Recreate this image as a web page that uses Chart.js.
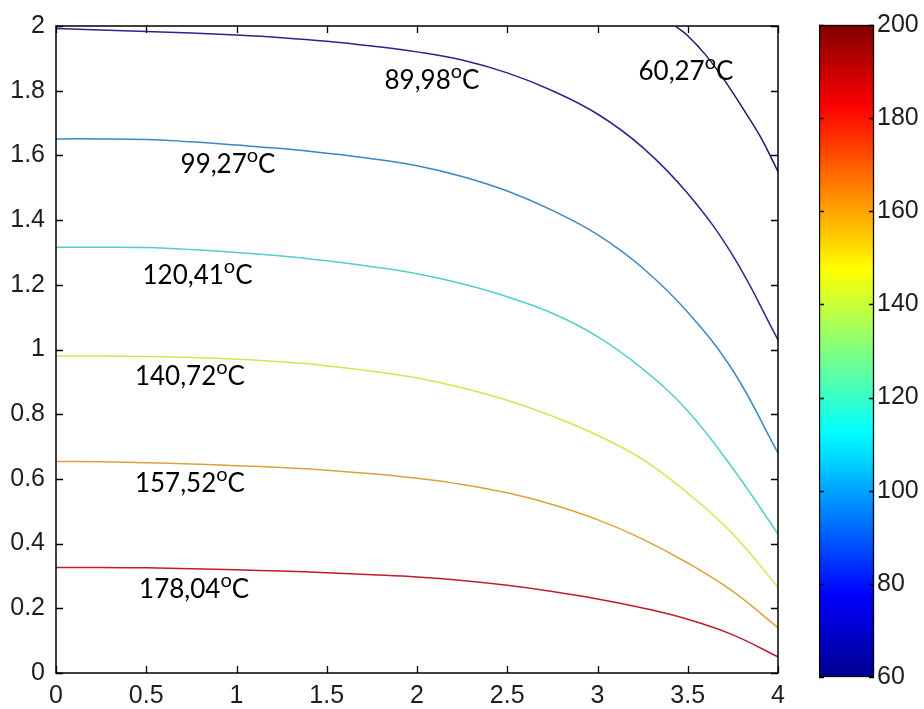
<!DOCTYPE html>
<html>
<head>
<meta charset="utf-8">
<title>Isotherms</title>
<style>
  html, body { margin: 0; padding: 0; background: #ffffff; width: 924px; height: 709px; overflow: hidden; }
  #wrap { position: relative; width: 924px; height: 709px; }
  #main { position: absolute; left: 0; top: 0; }
  #bar { position: absolute; left: 819px; top: 0; }
</style>
<script src="https://cdn.jsdelivr.net/npm/chart.js@4/dist/chart.umd.min.js"></script>
</head>
<body>
<div id="wrap">
  <canvas id="main" width="924" height="709"></canvas>
  <canvas id="bar" width="105" height="709"></canvas>
</div>
<script>
// Axis ticks
const xTickValues = [0, 0.5, 1, 1.5, 2, 2.5, 3, 3.5, 4];
const yTickValues = [0, 0.2, 0.4, 0.6, 0.8, 1, 1.2, 1.4, 1.6, 1.8, 2];
const colorbarTicks = [60, 80, 100, 120, 140, 160, 180, 200];
const colorbarMin = 60;
const colorbarMax = 200;

// Isotherm levels (°C)
const levelTexts = ['60,27', '89,98', '99,27', '120,41', '140,72', '157,52', '178,04'];

// Shared x positions for the isotherms that span the whole width
const xs = [0, 0.25, 0.5, 0.75, 1, 1.25, 1.5, 1.75, 2, 2.25, 2.5, 2.75, 3, 3.25, 3.5, 3.75, 4];

// The 60,27 isotherm only enters the upper-right corner
const iso60x  = [3.43, 3.5, 3.6, 3.7, 3.8, 3.9, 4.0];
const iso60y  = [2.0, 1.97, 1.91, 1.835, 1.75, 1.66, 1.55];

const iso90y  = [1.992, 1.988, 1.983, 1.978, 1.972, 1.964, 1.953, 1.938, 1.920, 1.895, 1.855, 1.800, 1.728, 1.625, 1.482, 1.290, 1.03];
const iso99y  = [1.651, 1.651, 1.649, 1.642, 1.632, 1.621, 1.607, 1.590, 1.568, 1.535, 1.490, 1.430, 1.355, 1.252, 1.115, 0.935, 0.68];
const iso120y = [1.316, 1.316, 1.315, 1.309, 1.300, 1.289, 1.274, 1.256, 1.234, 1.203, 1.163, 1.112, 1.040, 0.940, 0.810, 0.632, 0.43];
const iso141y = [0.980, 0.980, 0.978, 0.975, 0.970, 0.962, 0.950, 0.933, 0.912, 0.882, 0.843, 0.794, 0.735, 0.660, 0.556, 0.430, 0.265];
const iso158y = [0.654, 0.653, 0.650, 0.646, 0.641, 0.635, 0.627, 0.616, 0.602, 0.583, 0.557, 0.521, 0.474, 0.414, 0.340, 0.252, 0.14];
const iso178y = [0.326, 0.326, 0.325, 0.322, 0.319, 0.315, 0.310, 0.304, 0.297, 0.286, 0.271, 0.252, 0.229, 0.201, 0.166, 0.118, 0.05];

const pathsX = [iso60x, xs, xs, xs, xs, xs, xs];
const pathsY = [iso60y, iso90y, iso99y, iso120y, iso141y, iso158y, iso178y];
const lineColors = ['#1c1c5e', '#26268c', '#3a88c4', '#52cfc8', '#dbe24e', '#dca23a', '#c01c30'];

// Label anchor (centre of each label) in axis units
const labelAnchors = [
  [3.49, 1.861], [2.083, 1.834], [0.953, 1.572], [0.784, 1.230],
  [0.742, 0.918], [0.742, 0.586], [0.765, 0.259]
];

const tickFont = { family: '"Liberation Sans", Arial, sans-serif', size: 25 };
const tickColor = '#1e1e1e';

const datasets = pathsX.map((px, i) => ({
  label: levelTexts[i],
  data: px.map((x, k) => ({ x: x, y: pathsY[i][k] })),
  showLine: true,
  borderColor: lineColors[i],
  borderWidth: 1.5,
  pointRadius: 0,
  tension: 0.4,
  fill: false
}));

// Frame with inward tick marks on all four sides
const framePlugin = {
  id: 'frame',
  afterDatasetsDraw(chart) {
    const { ctx, chartArea: a, scales } = chart;
    ctx.save();
    ctx.strokeStyle = '#000';
    ctx.lineWidth = 1.5;
    ctx.strokeRect(a.left, a.top, a.right - a.left, a.bottom - a.top);
    ctx.lineWidth = 1.3;
    const len = 7;
    ctx.beginPath();
    xTickValues.forEach(v => {
      const px = Math.round(scales.x.getPixelForValue(v)) + 0.5;
      ctx.moveTo(px, a.bottom); ctx.lineTo(px, a.bottom - len);
      ctx.moveTo(px, a.top); ctx.lineTo(px, a.top + len);
    });
    yTickValues.forEach(v => {
      const py = Math.round(scales.y.getPixelForValue(v)) + 0.5;
      ctx.moveTo(a.left, py); ctx.lineTo(a.left + len, py);
      ctx.moveTo(a.right, py); ctx.lineTo(a.right - len, py);
    });
    ctx.stroke();
    ctx.restore();
  }
};

// Level labels such as 89,98°C with a raised "o"
const labelPlugin = {
  id: 'levelLabels',
  afterDatasetsDraw(chart) {
    const { ctx, scales } = chart;
    const mainFont = '26px Lato, "Open Sans", sans-serif';
    const supFont = '20px Lato, "Open Sans", sans-serif';
    ctx.save();
    ctx.fillStyle = '#000';
    ctx.textBaseline = 'alphabetic';
    levelTexts.forEach((t, i) => {
      const cx = scales.x.getPixelForValue(labelAnchors[i][0]);
      const cy = scales.y.getPixelForValue(labelAnchors[i][1]);
      ctx.font = mainFont;
      const w1 = ctx.measureText(t).width;
      const w3 = ctx.measureText('C').width;
      ctx.font = supFont;
      const w2 = ctx.measureText('o').width;
      const total = w1 + w2 + w3;
      let x = cx - total / 2;
      const base = cy + 9;
      ctx.font = mainFont;
      ctx.fillText(t, x, base);
      x += w1;
      ctx.font = supFont;
      ctx.fillText('o', x, base - 11);
      x += w2;
      ctx.font = mainFont;
      ctx.fillText('C', x, base);
    });
    ctx.restore();
  }
};

new Chart(document.getElementById('main'), {
  type: 'scatter',
  data: { datasets },
  options: {
    responsive: false,
    animation: false,
    layout: { padding: { top: 24, right: 146, left: 0, bottom: 0 } },
    plugins: { legend: { display: false }, tooltip: { enabled: false } },
    scales: {
      x: {
        type: 'linear', min: 0, max: 4,
        afterBuildTicks: s => { s.ticks = xTickValues.map(v => ({ value: v })); },
        afterFit: s => { s.height = 36; },
        grid: { display: false, drawTicks: false },
        border: { display: false },
        ticks: { padding: 8, font: tickFont, color: tickColor, maxRotation: 0, autoSkip: false, callback: v => String(v) }
      },
      y: {
        type: 'linear', min: 0, max: 2,
        afterBuildTicks: s => { s.ticks = yTickValues.map(v => ({ value: v })); },
        afterFit: s => { s.width = 56; },
        grid: { display: false, drawTicks: false },
        border: { display: false },
        ticks: { padding: 11, font: tickFont, color: tickColor, autoSkip: false, callback: v => String(v) }
      }
    }
  },
  plugins: [labelPlugin, framePlugin]
});

// Colour bar (jet colour map)
const jetStops = [
  [0, '#00008f'], [0.125, '#0000ff'], [0.375, '#00ffff'],
  [0.625, '#ffff00'], [0.875, '#ff0000'], [1, '#800000']
];

const colorbarFrame = {
  id: 'cbFrame',
  afterDatasetsDraw(chart) {
    const { ctx, chartArea: a, scales } = chart;
    ctx.save();
    ctx.strokeStyle = '#000';
    ctx.lineWidth = 1.3;
    ctx.strokeRect(a.left + 0.5, a.top + 0.5, a.right - a.left - 1, a.bottom - a.top - 1);
    ctx.beginPath();
    colorbarTicks.forEach(v => {
      const py = Math.round(scales.y.getPixelForValue(v)) + 0.5;
      ctx.moveTo(a.left, py); ctx.lineTo(a.left + 5, py);
      ctx.moveTo(a.right, py); ctx.lineTo(a.right - 5, py);
    });
    ctx.stroke();
    ctx.restore();
  }
};

new Chart(document.getElementById('bar'), {
  type: 'bar',
  data: {
    labels: [''],
    datasets: [{
      data: [[colorbarMin, colorbarMax]],
      barPercentage: 1,
      categoryPercentage: 1,
      borderWidth: 0,
      backgroundColor: c => {
        const a = c.chart.chartArea;
        if (!a) return '#0000ff';
        const g = c.chart.ctx.createLinearGradient(0, a.bottom, 0, a.top);
        jetStops.forEach(s => g.addColorStop(s[0], s[1]));
        return g;
      }
    }]
  },
  options: {
    responsive: false,
    animation: false,
    layout: { padding: { top: 25, bottom: 32, left: 0, right: 0 } },
    plugins: { legend: { display: false }, tooltip: { enabled: false } },
    scales: {
      x: { display: false },
      y: {
        position: 'right', min: colorbarMin, max: colorbarMax,
        afterBuildTicks: s => { s.ticks = colorbarTicks.map(v => ({ value: v })); },
        afterFit: s => { s.width = 50; },
        grid: { display: false, drawTicks: false },
        border: { display: false },
        ticks: { padding: 3, font: tickFont, color: tickColor, autoSkip: false, callback: v => String(v) }
      }
    }
  },
  plugins: [colorbarFrame]
});
</script>
</body>
</html>
